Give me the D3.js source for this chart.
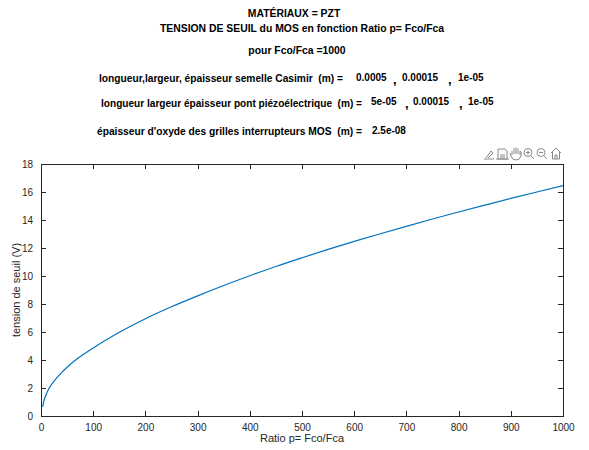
<!DOCTYPE html>
<html>
<head>
<meta charset="utf-8">
<script src="https://cdn.jsdelivr.net/npm/d3@7"></script>
<style>
  html, body { margin: 0; padding: 0; background: #fff; }
  svg { display: block; font-family: "Liberation Sans", Arial, sans-serif; }
  text { white-space: pre; }
</style>
</head>
<body>
<svg id="chart" width="589" height="450"></svg>
<script>
// Threshold voltage of the MOS versus ratio p = Fco/Fca
const ratio = [3, 5, 10, 15, 20, 30, 40, 50, 70, 100, 150, 200, 250, 300, 350, 400, 450,
               500, 550, 600, 650, 700, 750, 800, 850, 900, 950, 1000];
const tension = [0.66, 1.0, 1.55, 1.95, 2.25, 2.72, 3.12, 3.48, 4.1, 4.86, 5.98, 6.95, 7.8, 8.58,
                 9.32, 10.02, 10.68, 11.3, 11.9, 12.47, 13.02, 13.55, 14.07, 14.57, 15.06,
                 15.54, 16.0, 16.45];

const xTicks = [0, 100, 200, 300, 400, 500, 600, 700, 800, 900, 1000];
const yTicks = [0, 2, 4, 6, 8, 10, 12, 14, 16, 18];

const titleLines = ["MATÉRIAUX = PZT", "TENSION DE SEUIL du MOS en fonction Ratio p= Fco/Fca"];
const subtitle = "pour Fco/Fca =1000";
const casimirLabel = "longueur,largeur, épaisseur semelle Casimir  (m) =";
const casimirValues = ["0.0005", "0.00015", "1e-05"];
const pontLabel = "longueur largeur épaisseur pont piézoélectrique  (m) =";
const pontValues = ["5e-05", "0.00015", "1e-05"];
const oxydeLabel = "épaisseur d'oxyde des grilles interrupteurs MOS  (m) =";
const oxydeValues = ["2.5e-08"];
const xLabel = "Ratio p= Fco/Fca";
const yLabel = "tension de seuil (V)";

const svg = d3.select("#chart");
const m = { left: 41, right: 563, top: 164, bottom: 416 };
const axisColor = "#262626";

const x = d3.scaleLinear().domain([0, 1000]).range([m.left, m.right]);
const y = d3.scaleLinear().domain([0, 18]).range([m.bottom, m.top]);

// Header texts
const head = svg.append("g").attr("fill", "#000").attr("font-weight", "bold");
head.append("text").attr("x", 294).attr("y", 17).attr("font-size", 10.4)
  .attr("text-anchor", "middle").text(titleLines[0]);
head.append("text").attr("x", 302).attr("y", 32).attr("font-size", 10.4)
  .attr("text-anchor", "middle").text(titleLines[1]);
head.append("text").attr("x", 297).attr("y", 54).attr("font-size", 10.4)
  .attr("text-anchor", "middle").text(subtitle);

function paramLine(label, values, lx, ly, labelWidth, vx, vy, commaX) {
  head.append("text").attr("x", lx).attr("y", ly).attr("font-size", 10)
    .attr("textLength", labelWidth).attr("lengthAdjust", "spacingAndGlyphs").text(label);
  values.forEach((v, i) => {
    head.append("text").attr("x", vx[i]).attr("y", vy).attr("font-size", 10).text(v);
    if (i < values.length - 1) {
      head.append("text").attr("x", commaX[i]).attr("y", vy + 3).attr("font-size", 13).text(",");
    }
  });
}
paramLine(casimirLabel, casimirValues, 99, 82, 244, [356, 402, 458], 81, [393, 448]);
paramLine(pontLabel, pontValues, 101, 107, 261, [371, 413, 468], 105, [405, 459]);
paramLine(oxydeLabel, oxydeValues, 97, 135, 265, [372], 134, []);

// Axes box with inward ticks on all four sides
const g = svg.append("g");
g.append("rect")
  .attr("x", m.left).attr("y", m.top)
  .attr("width", m.right - m.left).attr("height", m.bottom - m.top)
  .attr("fill", "none").attr("stroke", axisColor).attr("stroke-width", 1)
  .attr("shape-rendering", "crispEdges");

const fmt = d3.format("d");
const xb = g.append("g").attr("transform", `translate(0,${m.bottom})`)
  .call(d3.axisBottom(x).tickValues(xTicks).tickFormat(fmt).tickSizeInner(-5).tickSizeOuter(0).tickPadding(8));
const xt = g.append("g").attr("transform", `translate(0,${m.top})`)
  .call(d3.axisTop(x).tickValues(xTicks).tickSizeInner(-5).tickSizeOuter(0).tickFormat(""));
const yl = g.append("g").attr("transform", `translate(${m.left},0)`)
  .call(d3.axisLeft(y).tickValues(yTicks).tickFormat(fmt).tickSizeInner(-5).tickSizeOuter(0).tickPadding(8));
const yr = g.append("g").attr("transform", `translate(${m.right},0)`)
  .call(d3.axisRight(y).tickValues(yTicks).tickSizeInner(-5).tickSizeOuter(0).tickFormat(""));

[xb, xt, yl, yr].forEach(a => {
  a.select(".domain").remove();
  a.selectAll("line").attr("stroke", axisColor).attr("shape-rendering", "crispEdges");
  a.selectAll("text").attr("fill", axisColor).attr("font-size", 10)
    .attr("font-family", "'Liberation Sans', Arial, sans-serif");
});

// Axis labels
svg.append("text").attr("x", (m.left + m.right) / 2).attr("y", 442)
  .attr("text-anchor", "middle").attr("font-size", 11).attr("fill", axisColor).text(xLabel);
svg.append("text").attr("transform", `translate(20,${(m.top + m.bottom) / 2}) rotate(-90)`)
  .attr("text-anchor", "middle").attr("font-size", 11).attr("fill", axisColor).text(yLabel);

// Curve
const line = d3.line().x((d, i) => x(ratio[i])).y(d => y(d)).curve(d3.curveMonotoneX);
svg.append("path").datum(tension)
  .attr("d", line).attr("fill", "none")
  .attr("stroke", "#0072BD").attr("stroke-width", 1.2);

// Figure toolbar icons (export, save, pan, zoom in, zoom out, home)
const tb = svg.append("g").attr("fill", "none").attr("stroke", "#8a8a8a").attr("stroke-width", 1);
// export brush
tb.append("path").attr("d", "M484,159 L494,159 M486,158 L491,151 L493,153 L488,158");
// save / print
tb.append("path").attr("d", "M498,149 L505,149 L507,151 L507,159 L498,159 Z M500,155 L505,155 M500,157 L505,157");
tb.append("path").attr("d", "M496,159 L509,159");
// pan hand
tb.append("path").attr("d", "M512,155 L512,151 M514,154 L514,148 M516,154 L516,147.5 M518,154 L518,148.5 M520,155 L520,151 L521,152 L521,156 Q520,160 516,160 Q512,160 511,156 L510,153");
// zoom in
tb.append("circle").attr("cx", 528).attr("cy", 152.5).attr("r", 4);
tb.append("path").attr("d", "M531,156 L534,159 M526,152.5 L530,152.5 M528,150.5 L528,154.5");
// zoom out
tb.append("circle").attr("cx", 541).attr("cy", 152.5).attr("r", 4);
tb.append("path").attr("d", "M544,156 L547,159 M539,152.5 L543,152.5");
// home
tb.append("path").attr("d", "M551,153 L556,148 L561,153 M552.5,152 L552.5,159 L559.5,159 L559.5,152 M555,159 L555,155 L557,155 L557,159");
</script>
</body>
</html>
